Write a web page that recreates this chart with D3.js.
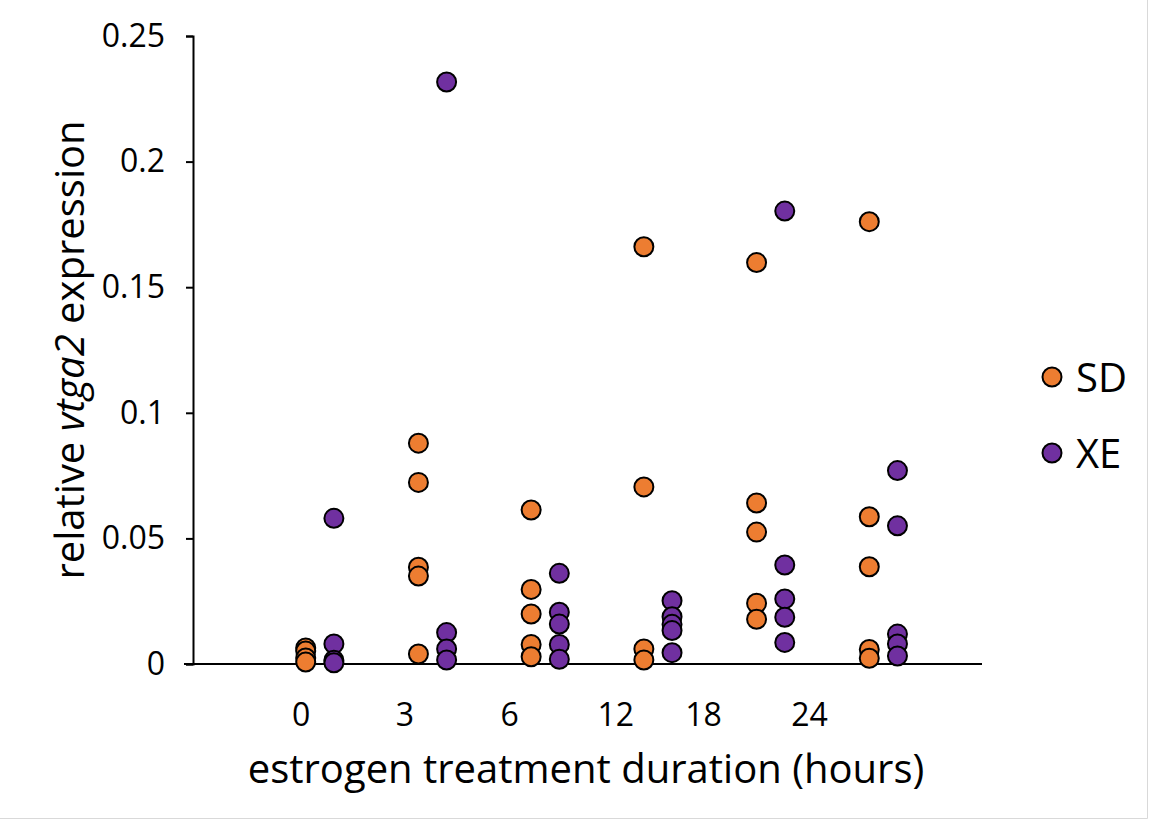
<!DOCTYPE html>
<html>
<head>
<meta charset="utf-8">
<script src="https://cdn.jsdelivr.net/npm/d3@7"></script>
<style>
  body { margin: 0; background: #fff; }
  text { font-family: "Open Sans", "Noto Sans", sans-serif; fill: #000; }
</style>
</head>
<body>
<div id="chart"></div>
<script>
// hours of estrogen treatment, one group per duration
var durations = ["0", "3", "6", "12", "18", "24"]
// where the hand placed hour labels sit, in x axis units
var labelSlots = [0.96, 1.88, 2.81, 3.75, 4.53, 5.47]
var yTicks = [0, 0.05, 0.1, 0.15, 0.2, 0.25]

var sdValues = [
  [0.0064, 0.0052, 0.0024, 0.0008],
  [0.0879, 0.0723, 0.0385, 0.035, 0.004],
  [0.0613, 0.0297, 0.0199, 0.0078, 0.0029],
  [0.1661, 0.0705, 0.006, 0.0016],
  [0.1598, 0.0641, 0.0525, 0.0242, 0.0178],
  [0.1761, 0.0586, 0.0387, 0.0058, 0.0023]
]
var xeValues = [
  [0.058, 0.008, 0.0015, 0.0005],
  [0.2317, 0.0125, 0.006, 0.0016],
  [0.0361, 0.0206, 0.0159, 0.0078, 0.0019],
  [0.0252, 0.0188, 0.0158, 0.0133, 0.0045],
  [0.1803, 0.0394, 0.0259, 0.0186, 0.0086],
  [0.077, 0.055, 0.0119, 0.008, 0.0032]
]

var series = [
  { name: "SD", color: "#ED7D31", offset: 1, values: sdValues },
  { name: "XE", color: "#7030A0", offset: 1.25, values: xeValues }
]

var width = 1151, height = 822
var margin = { top: 36, left: 193, right: 169, bottom: 158 }

var svg = d3.select("#chart")
  .append("svg")
    .attr("width", width)
    .attr("height", height)

// chart area border (only right and bottom edges show)
svg.append("path")
  .attr("d", "M" + (width - 3.5) + ",0V" + (height - 3.5) + "H0")
  .attr("fill", "none")
  .attr("stroke", "#d9d9d9")
  .attr("stroke-width", 1)

var x = d3.scaleLinear()
  .domain([0, 7])
  .range([margin.left, width - margin.right])

var y = d3.scaleLinear()
  .domain([0, 0.25])
  .range([height - margin.bottom, margin.top])

// Y axis
var yAxis = svg.append("g")
  .attr("transform", "translate(" + margin.left + ",0)")
  .call(d3.axisLeft(y)
    .tickValues(yTicks)
    .tickSize(7)
    .tickPadding(21)
    .tickFormat(function(d) { return d3.format("")(+d.toFixed(2)) }))
yAxis.select(".domain").attr("stroke", "#000").attr("stroke-width", 2)
yAxis.selectAll(".tick line").attr("stroke", "#000").attr("stroke-width", 2)
yAxis.selectAll(".tick text")
  .attr("font-size", 32)
  .attr("font-family", "Open Sans")
  .attr("fill", "#000")

// X axis line, no ticks
svg.append("line")
  .attr("x1", x(0) - 9)
  .attr("x2", x(7))
  .attr("y1", y(0))
  .attr("y2", y(0))
  .attr("stroke", "#000")
  .attr("stroke-width", 2)

svg.append("g")
  .selectAll("text")
  .data(durations)
  .enter()
  .append("text")
    .attr("x", function(d, i) { return x(labelSlots[i]) })
    .attr("y", y(0) + 62)
    .attr("text-anchor", "middle")
    .attr("font-size", 32)
    .text(function(d) { return d })

// axis titles
svg.append("text")
  .attr("x", 586)
  .attr("y", 783)
  .attr("text-anchor", "middle")
  .attr("font-size", 40)
  .text("estrogen treatment duration (hours)")

var yTitle = svg.append("text")
  .attr("transform", "translate(84,350) rotate(-90)")
  .attr("text-anchor", "middle")
  .attr("font-size", 40)
yTitle.append("tspan").text("relative ")
yTitle.append("tspan").attr("font-style", "italic").text("vtga2")
yTitle.append("tspan").text(" expression")

// points
series.forEach(function(s) {
  var pts = []
  s.values.forEach(function(vals, i) {
    vals.forEach(function(v) { pts.push({ x: i + s.offset, y: v }) })
  })
  svg.append("g")
    .selectAll("circle")
    .data(pts)
    .enter()
    .append("circle")
      .attr("cx", function(d) { return x(d.x) })
      .attr("cy", function(d) { return y(d.y) })
      .attr("r", 9.5)
      .attr("fill", s.color)
      .attr("stroke", "#000")
      .attr("stroke-width", 2)
})

// legend
var legend = svg.append("g")
  .selectAll("g")
  .data(series)
  .enter()
  .append("g")
    .attr("transform", function(d, i) { return "translate(1052," + (377 + i * 76) + ")" })
legend.append("circle")
  .attr("r", 9.5)
  .attr("fill", function(d) { return d.color })
  .attr("stroke", "#000")
  .attr("stroke-width", 2)
legend.append("text")
  .attr("x", 24)
  .attr("y", 15)
  .attr("font-size", 40)
  .text(function(d) { return d.name })
</script>
</body>
</html>
